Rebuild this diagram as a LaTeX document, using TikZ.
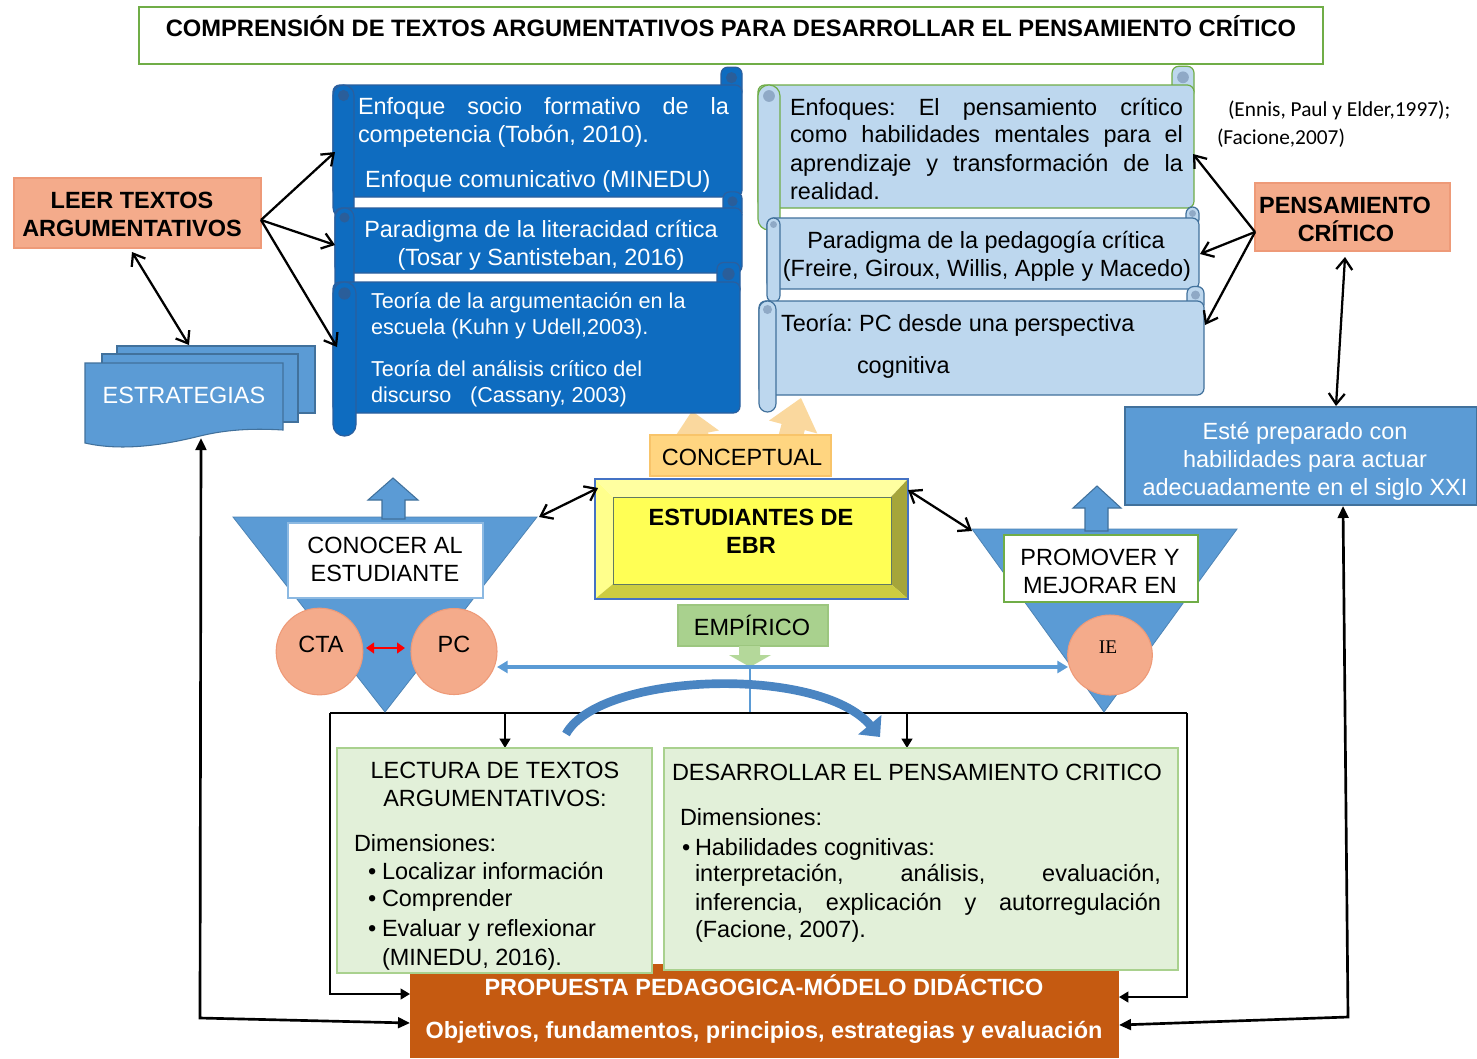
\documentclass[tikz,border=0pt]{standalone}
\usepackage{fontspec}
\setmainfont{Liberation Sans}
\newfontfamily\calfont{Carlito}
\newfontfamily\tmsfont{Liberation Serif}
\usetikzlibrary{arrows.meta,shapes.geometric}
\frenchspacing
\definecolor{dblue}{HTML}{0E6CC0}
\definecolor{dblueline}{HTML}{2B5F9E}
\definecolor{dcurl}{HTML}{2A5E9A}
\definecolor{lblue}{HTML}{BDD7EE}
\definecolor{lblueline}{HTML}{41719C}
\definecolor{lcurl}{HTML}{8FA9C6}
\definecolor{mblue}{HTML}{5B9BD5}
\definecolor{gline}{HTML}{70AD47}
\definecolor{salmon}{HTML}{F4AB8B}
\definecolor{salmonline}{HTML}{EE9A78}
\definecolor{concfill}{HTML}{FFD580}
\definecolor{concline}{HTML}{F8C46A}
\definecolor{concarrow}{HTML}{FAD28E}
\definecolor{empfill}{HTML}{A9D18E}
\definecolor{empline}{HTML}{9CC67F}
\definecolor{emparrow}{HTML}{B4D89A}
\definecolor{lgreen}{HTML}{E2F0D9}
\definecolor{lgreenline}{HTML}{A9D18E}
\definecolor{propfill}{HTML}{C55A11}
\definecolor{curvblue}{HTML}{4A85C2}
\definecolor{ebrface}{HTML}{FFFF55}
\definecolor{ebrtop}{HTML}{FFFFA0}
\definecolor{ebrleft}{HTML}{FFFF8C}
\definecolor{ebrright}{HTML}{A5A53A}
\definecolor{ebrbottom}{HTML}{CCCC40}
\definecolor{ebrline}{HTML}{4472C4}
\newcommand\fs{\fontsize{17.6}{21}\selectfont}
\newcommand\fss{\fontsize{16.2}{19}\selectfont}
\tikzset{
  txt/.style={inner sep=0pt,outer sep=0pt,anchor=base west,font=\fs},
  ctxt/.style={inner sep=0pt,outer sep=0pt,anchor=base,font=\fs},
  conn/.style={line width=1.7pt,draw=black,>={Straight Barb[length=8pt,width=12pt]}},
  frm/.style={line width=1.5pt,draw=black,>={Triangle[length=7pt,width=8pt]}},
  lng/.style={line width=2pt,draw=black,>={Triangle[length=9pt,width=8pt]}},
  redarr/.style={line width=2pt,draw=red,>={Triangle[length=6pt,width=8pt]}},
  bluearr/.style={line width=2.4pt,draw=mblue,>={Triangle[length=8pt,width=9pt]}},
  blockb/.style={fill=mblue,draw=lblueline,line width=0.8pt},
}
\newcommand\mybox[6]{\node[#6,minimum width={(#4-#2)*0.75pt},minimum height={(#5-#3)*0.75pt},inner sep=0pt,outer sep=0pt] (#1) at ({(#2+#4)/2},{(#3+#5)/2}) {};}
\newcommand\ltext[5][]{\node[txt,#1] (#2) at (#3,#4) {#5};}
\newcommand\ctext[5][]{\node[ctxt,#1] (#2) at (#3,#4) {#5};}
% horizontal scroll: x1 y1 x2 y2 w fill draw curl
\newcommand\hscroll[8]{%
  \filldraw[fill=#6,draw=#7,line width=0.9pt,rounded corners=5pt] ({#3-#5},{#2-0.85*#5}) rectangle (#3,{#2+0.6*#5});
  \filldraw[fill=#6,draw=#7,line width=0.9pt,rounded corners=5pt] (#1,#2) rectangle (#3,#4);
  \filldraw[fill=#6,draw=#7,line width=0.9pt,rounded corners={#5*0.37pt}] (#1,#2) rectangle ({#1+#5},{#4+#5});
  \fill[#8] ({#1+#5/2},{#2+#5/2}) circle[radius={#5*0.2pt}];
  \fill[#8] ({#3-#5/2},{#2-0.85*#5+#5/2}) circle[radius={#5*0.2pt}];
}
\begin{document}
\begin{tikzpicture}[x=0.75pt,y=-0.75pt]
\useasboundingbox (0,0) rectangle (1477,1058);
\fill[white] (0,0) rectangle (1477,1058);

% ---------- title
\mybox{title}{139}{7}{1323}{64}{fill=white,draw=gline,line width=1.2pt}
\ctext[font=\fontsize{17.8}{21}\selectfont\bfseries]{titleT}{731}{36}{COMPRENSIÓN DE TEXTOS ARGUMENTATIVOS PARA DESARROLLAR EL PENSAMIENTO CRÍTICO}

% ---------- conceptual arrows (behind)
\fill[concarrow,opacity=0.85] (691.2,474.1) -- (684.5,436.7) -- (673.7,438.7) -- (692,411) -- (718.9,430.5) -- (708.1,432.5) -- (714.8,469.9) -- cycle;
\fill[concarrow,opacity=0.85] (769.4,468.9) -- (781.6,423.9) -- (769.1,420.5) -- (801,398) -- (817.3,433.5) -- (804.8,430.1) -- (792.6,475.1) -- cycle;

% ---------- dark blue scrolls
\hscroll{333}{85}{742}{197}{21}{dblue}{dblueline}{dcurl}
\hscroll{335}{208}{742}{273}{19}{dblue}{dblueline}{dcurl}
\hscroll{333}{282}{740}{413}{23}{dblue}{dblueline}{dcurl}
\ltext[text=white]{s1a}{358}{114}{\makebox[278.25pt][s]{Enfoque socio formativo de la}}
\ltext[text=white]{s1b}{358}{142}{competencia (Tobón, 2010).}
\ltext[text=white]{s1c}{365}{187}{Enfoque comunicativo (MINEDU)}
\ctext[text=white]{s2a}{541}{237}{Paradigma de la literacidad crítica}
\ctext[text=white]{s2b}{541}{265}{(Tosar y Santisteban, 2016)}
\ltext[text=white,font=\fss]{s3a}{371}{308}{Teoría de la argumentación en la}
\ltext[text=white,font=\fss]{s3b}{371}{334}{escuela (Kuhn y Udell,2003).}
\ltext[text=white,font=\fss]{s3c}{371}{376}{Teoría del análisis crítico del}
\ltext[text=white,font=\fss]{s3d}{371}{402}{discurso\hspace{14pt}(Cassany, 2003)}

% ---------- light blue scrolls
\hscroll{758}{85}{1194}{208}{22}{lblue}{gline}{lcurl}
\hscroll{767}{218}{1199}{289}{13}{lblue}{lblueline}{lcurl}
\hscroll{759}{301}{1204}{395}{17}{lblue}{lblueline}{lcurl}
\ltext{rA1}{790}{115}{\makebox[294.75pt][s]{Enfoques: El pensamiento crítico}}
\ltext{rA2}{790}{142}{\makebox[294.75pt][s]{como habilidades mentales para el}}
\ltext{rA3}{790}{171}{\makebox[294.75pt][s]{aprendizaje y transformación de la}}
\ltext{rA4}{790}{199}{realidad.}
\ctext{rB1}{986}{248}{Paradigma de la pedagogía crítica}
\ctext{rB2}{987}{276}{(Freire, Giroux, Willis, Apple y Macedo)}
\ltext{rC1}{781}{331}{Teoría: PC desde una perspectiva}
\ltext{rC2}{857}{373}{cognitiva}

% citation
\ltext[font=\calfont\fontsize{16}{19}\selectfont]{cit1}{1228}{116}{(Ennis, Paul y Elder,1997);}
\ltext[font=\calfont\fontsize{16}{19}\selectfont]{cit2}{1217}{144}{(Facione,2007)}

% ---------- LEER / PENSAMIENTO
\mybox{leer}{14}{178}{261}{248}{fill=salmon,draw=salmonline,line width=1pt}
\ctext[font=\fs\bfseries]{leerT1}{132}{208}{LEER TEXTOS}
\ctext[font=\fs\bfseries]{leerT2}{132}{236}{ARGUMENTATIVOS}
\mybox{pens}{1255}{183}{1450}{251}{fill=salmon,draw=salmonline,line width=1pt}
\ctext[font=\fs\bfseries]{pensT1}{1345}{213}{PENSAMIENTO}
\ctext[font=\fs\bfseries]{pensT2}{1346}{241}{CRÍTICO}

% ---------- ESTRATEGIAS
\filldraw[blockb] (117,346) rectangle (315,413);
\filldraw[blockb] (102,354) rectangle (298,422);
\filldraw[blockb] (85,363) -- (283,363) -- (283,430) .. controls (250,428) and (225,430) .. (200,436) .. controls (160,446) and (120,451) .. (85,443) -- cycle;
\ctext[text=white]{estT}{184}{403}{ESTRATEGIAS}

% ---------- Esté preparado
\mybox{este}{1125}{407}{1477}{505}{fill=mblue,draw=lblueline,line width=1pt}
\ctext[text=white]{este1}{1305}{439}{Esté preparado con}
\ctext[text=white]{este2}{1305}{467}{habilidades para actuar}
\ctext[text=white]{este3}{1305}{495}{adecuadamente en el siglo XXI}

% ---------- connectors top
\coordinate (leerR) at (261,220);
\coordinate (sc1in) at (335,152);
\coordinate (sc2in) at (335,245);
\coordinate (sc3in) at (337,347);
\draw[conn,->] (leerR) -- (sc1in);
\draw[conn,->] (leerR) -- (sc2in);
\draw[conn,->] (leerR) -- (sc3in);
\coordinate (leerB) at (132,252);
\coordinate (estTop) at (189,345);
\draw[conn,<->] (leerB) -- (estTop);
\coordinate (pensL) at (1255,232);
\coordinate (scAin) at (1193,154);
\coordinate (scBin) at (1200,254);
\coordinate (scCin) at (1205,325);
\draw[conn,->] (pensL) -- (scAin);
\draw[conn,->] (pensL) -- (scBin);
\draw[conn,->] (pensL) -- (scCin);
\coordinate (pensB) at (1345,257);
\coordinate (esteTop) at (1336,406);
\draw[conn,<->] (pensB) -- (esteTop);

% ---------- CONCEPTUAL
\mybox{conc}{650}{435}{831}{476}{fill=concfill,draw=concline,line width=0.8pt}
\ctext{concT}{742}{465}{CONCEPTUAL}

% ---------- frame
\coordinate (fTL) at (330,713);
\coordinate (fTR) at (1187,713);
\coordinate (fBL) at (330,994);
\coordinate (fBR) at (1187,997);
\coordinate (propL1) at (410,994);
\coordinate (propR1) at (1119,997);
\draw[frm] (fTL) -- (fTR);
\draw[frm,->] (fTL) -- (fBL) -- (propL1);
\draw[frm,->] (fTR) -- (fBR) -- (propR1);
\coordinate (d1a) at (505,713);
\coordinate (d1b) at (505,748);
\coordinate (d2a) at (907,713);
\coordinate (d2b) at (907,748);
\draw[frm,->] (d1a) -- (d1b);
\draw[frm,->] (d2a) -- (d2b);

% ---------- funnels
\filldraw[fill=mblue,draw=mblue!85!black,line width=0.6pt] (233,517) -- (537,517) -- (385,712) -- cycle;
\filldraw[fill=mblue,draw=mblue!85!black,line width=0.6pt] (972,529) -- (1237,529) -- (1104,712) -- cycle;
\filldraw[blockb] (382,519) -- (382,500) -- (368,500) -- (393,478) -- (418,500) -- (405,500) -- (405,519) -- cycle;
\filldraw[blockb] (1085,531) -- (1085,508) -- (1073,508) -- (1097,486) -- (1121,508) -- (1108,508) -- (1108,531) -- cycle;
\mybox{conoc}{288}{523}{483}{598}{fill=white,draw=mblue!70,line width=1pt}
\ctext{conocT1}{385}{553}{CONOCER AL}
\ctext{conocT2}{385}{581}{ESTUDIANTE}
\mybox{promo}{1004}{535}{1198}{602}{fill=white,draw=gline,line width=1pt}
\ctext{promoT1}{1100}{565}{PROMOVER Y}
\ctext{promoT2}{1100}{593}{MEJORAR EN}

% circles
\node[circle,fill=salmon,draw=salmonline,line width=0.8pt,minimum size=65pt,inner sep=0pt] (cta) at (319.5,651.5) {};
\node[circle,fill=salmon,draw=salmonline,line width=0.8pt,minimum size=64.5pt,inner sep=0pt] (pc) at (454,651.5) {};
\node[ellipse,fill=salmon,draw=salmonline,line width=0.8pt,minimum width=63.5pt,minimum height=60pt,inner sep=0pt] (ie) at (1110,655) {};
\ctext{ctaT}{321}{652}{CTA}
\ctext{pcT}{454}{652}{PC}
\ctext[font=\tmsfont\fontsize{14.5}{17}\selectfont]{ieT}{1108}{653}{IE}
\coordinate (ctaR) at (366,648);
\coordinate (pcLf) at (405,648);
\draw[redarr,<->] (ctaR) -- (pcLf);

% ---------- EBR bevel
\fill[ebrtop] (595,479) -- (908,479) -- (891,497) -- (613,497) -- cycle;
\fill[ebrleft] (595,479) -- (613,497) -- (613,584) -- (595,599) -- cycle;
\fill[ebrright] (908,479) -- (908,599) -- (891,584) -- (891,497) -- cycle;
\fill[ebrbottom] (595,599) -- (908,599) -- (891,584) -- (613,584) -- cycle;
\fill[ebrface] (613,497) rectangle (891,584);
\draw[ebrline!50!olive,line width=0.5pt] (613,497) rectangle (891,584);
\mybox{ebr}{595}{479}{908}{599}{draw=ebrline,line width=0.8pt}
\ctext[font=\fs\bfseries]{ebrT1}{751}{525}{ESTUDIANTES DE}
\ctext[font=\fs\bfseries]{ebrT2}{751}{553}{EBR}
\coordinate (funLa) at (539,517);
\coordinate (ebrTL) at (598,488);
\coordinate (ebrTR) at (908,490);
\coordinate (funRa) at (972,531);
\draw[conn,<->] (funLa) -- (ebrTL);
\draw[conn,<->] (ebrTR) -- (funRa);

% ---------- EMPIRICO
\mybox{emp}{678}{605}{828}{646}{fill=empfill,draw=empline,line width=0.8pt}
\ctext{empT}{752}{635}{EMPÍRICO}
\fill[emparrow] (739,646) -- (739,655) -- (729,655) -- (750,667) -- (771,655) -- (760,655) -- (760,646) -- cycle;
\coordinate (pcRt) at (497,667);
\coordinate (ieLf) at (1068,667);
\draw[bluearr,<->] (pcRt) -- (ieLf);
\coordinate (empB) at (750,667);
\coordinate (vlB) at (750,712);
\draw[mblue,line width=1pt] (empB) -- (vlB);

% curved arrow
\coordinate (cvA) at (566,734);
\coordinate (cvB) at (880,737);
\draw[curvblue,line width=6.5pt,-{Triangle[length=12pt,width=22pt]}] (cvA) .. controls (600,672) and (820,665) .. (cvB);

% ---------- bottom boxes
\mybox{prop}{410}{964}{1119}{1058}{fill=propfill}
\mybox{lect}{337}{748}{652}{973}{fill=lgreen,draw=lgreenline,line width=1pt}
\mybox{desa}{664}{748}{1178}{970}{fill=lgreen,draw=lgreenline,line width=1pt}
\ctext{lecT1}{495}{778}{LECTURA DE TEXTOS}
\ctext{lecT2}{495}{806}{ARGUMENTATIVOS:}
\ltext{lecT3}{354}{851}{Dimensiones:}
\ltext{lecB1}{368}{879}{•}
\ltext{lecT4}{382}{879}{Localizar información}
\ltext{lecB2}{368}{906}{•}
\ltext{lecT5}{382}{906}{Comprender}
\ltext{lecB3}{368}{936}{•}
\ltext{lecT6}{382}{936}{Evaluar y reflexionar}
\ltext{lecT7}{382}{965}{(MINEDU, 2016).}
\ltext{desT1}{672}{780}{DESARROLLAR EL PENSAMIENTO CRITICO}
\ltext{desT2}{680}{825}{Dimensiones:}
\ltext{desB1}{682}{855}{•}
\ltext{desT3}{695}{855}{Habilidades cognitivas:}
\ltext{desT4}{695}{881}{\makebox[349.5pt][s]{interpretación, análisis, evaluación,}}
\ltext{desT5}{695}{910}{\makebox[349.5pt][s]{inferencia, explicación y autorregulación}}
\ltext{desT6}{695}{937}{(Facione, 2007).}
\ctext[text=white,font=\fs\bfseries]{propT1}{764}{995}{PROPUESTA PEDAGOGICA-MÓDELO DIDÁCTICO}
\ctext[text=white,font=\fs\bfseries]{propT2}{764}{1038}{Objetivos, fundamentos, principios, estrategias y evaluación}

% ---------- long side connectors
\coordinate (estBot) at (201,438);
\coordinate (lcorner) at (200,1018);
\coordinate (propL2) at (410,1023);
\draw[lng,<->] (estBot) -- (lcorner) -- (propL2);
\coordinate (esteBot) at (1343,506);
\coordinate (rcorner) at (1348,1017);
\coordinate (propR2) at (1119,1025);
\draw[lng,<->] (esteBot) -- (rcorner) -- (propR2);
\end{tikzpicture}
\end{document}
